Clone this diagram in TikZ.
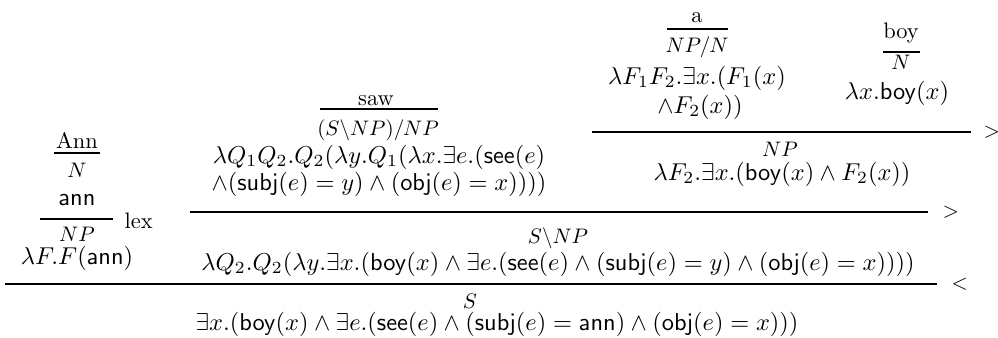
\documentclass[tikz,border=0pt]{standalone}
\usepackage{amsmath}
\usepackage{graphicx}

\tikzset{
  item/.style={anchor=base, inner sep=0pt},
  ruletag/.style={anchor=west, inner sep=0pt},
}
\newcommand{\pred}[1]{\mathsf{#1}}
\newcommand{\word}[1]{\scalebox{1.12}{#1}}
\newcommand{\cat}[1]{\scalebox{1.05}{#1}}
\newcommand{\sem}[1]{\scalebox{1.22}{#1}}

\begin{document}
\begin{tikzpicture}[line width=0.6pt, x=0.5pt, y=-0.5pt]
  \useasboundingbox (0,0) rectangle (998,338);
  % Ann, with the lex rule.
  \node[item] (annword) at (77,148) {\word{Ann}};
  \draw (54,153) -- (100,153);
  \node[item] (anncat) at (77,177) {\cat{$N$}};
  \node[item] (annsem) at (77,205) {\sem{$\pred{ann}$}};
  \draw (40,219) -- (113,219);
  \node[ruletag, anchor=base west] (annlex) at (124,228) {\word{lex}};
  \node[item] (anncat2) at (77,241) {\cat{$NP$}};
  \node[item] (annsem2) at (77,264) {\sem{$\lambda F.F(\pred{ann})$}};
  % saw.
  \node[item] (sawword) at (376,105) {\word{saw}};
  \draw (320,109) -- (438,109);
  \node[item] (sawcat) at (378,135) {\cat{$(S\backslash NP)/NP$}};
  \node[item] (sawsem1) at (379,163)
    {\sem{$\lambda Q_1Q_2.Q_2(\lambda y.Q_1(\lambda x.\exists e.(\pred{see}(e)$}};
  \node[item] (sawsem2) at (379,190)
    {\sem{$\wedge(\pred{subj}(e)=y)\wedge(\pred{obj}(e)=x))))$}};
  % a.
  \node[item] (aword) at (697,22) {\word{a}};
  \draw (667,29) -- (728,29);
  \node[item] (acat) at (697,52) {\cat{$NP/N$}};
  \node[item] (asem1) at (697,84) {\sem{$\lambda F_1F_2.\exists x.(F_1(x)$}};
  \node[item] (asem2) at (700,113) {\sem{$\wedge F_2(x))$}};
  % boy.
  \node[item] (boyword) at (901,38) {\word{boy}};
  \draw (883,52) -- (920,52);
  \node[item] (boycat) at (901,69) {\cat{$N$}};
  \node[item] (boysem) at (897,99) {\sem{$\lambda x.\pred{boy}(x)$}};
  % a boy.
  \draw (592,132) -- (971,132);
  \node[ruletag] (npfa) at (983,132) {\cat{$>$}};
  \node[item] (npcat) at (780,156) {\cat{$NP$}};
  \node[item] (npsem) at (782,180) {\sem{$\lambda F_2.\exists x.(\pred{boy}(x)\wedge F_2(x))$}};
  % saw a boy.
  \draw (190,212) -- (928,212);
  \node[ruletag] (vpfa) at (942,212) {\cat{$>$}};
  \node[item] (vpcat) at (558,243) {\cat{$S\backslash NP$}};
  \node[item] (vpsem) at (558,270)
    {\sem{$\lambda Q_2.Q_2(\lambda y.\exists x.(\pred{boy}(x)\wedge\exists e.(\pred{see}(e)\wedge(\pred{subj}(e)=y)\wedge(\pred{obj}(e)=x))))$}};
  % Ann saw a boy.
  \draw (5,284) -- (937,284);
  \node[ruletag] (sba) at (951,284) {\cat{$<$}};
  \node[item] (scat) at (470,308) {\cat{$S$}};
  \node[item] (ssem) at (497,330)
    {\sem{$\exists x.(\pred{boy}(x)\wedge\exists e.(\pred{see}(e)\wedge(\pred{subj}(e)=\pred{ann})\wedge(\pred{obj}(e)=x)))$}};
\end{tikzpicture}
\end{document}
